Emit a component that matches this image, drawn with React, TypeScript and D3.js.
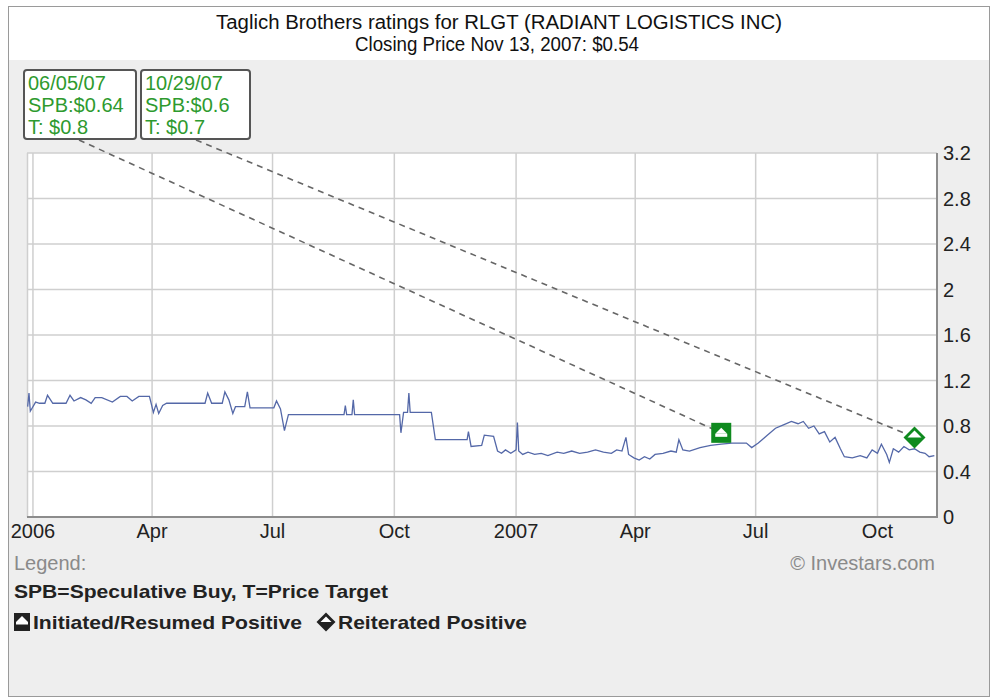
import React from "react";
import * as d3 from "d3";

// closing prices
const priceDates = [
  "2005-12-28","2005-12-29","2005-12-30","2006-01-03","2006-01-06","2006-01-10","2006-01-12","2006-01-16",
  "2006-01-26","2006-01-29","2006-02-01","2006-02-06","2006-02-10","2006-02-14","2006-02-17","2006-02-22",
  "2006-03-02","2006-03-08","2006-03-13","2006-03-17","2006-03-22","2006-03-30","2006-04-02","2006-04-04",
  "2006-04-06","2006-04-09","2006-04-12","2006-05-11","2006-05-13","2006-05-16","2006-05-24","2006-05-26",
  "2006-05-29","2006-06-01","2006-06-03","2006-06-10","2006-06-12","2006-06-14","2006-07-02","2006-07-04",
  "2006-07-07","2006-07-10","2006-07-13","2006-08-24","2006-08-25","2006-08-26","2006-08-30","2006-08-31",
  "2006-09-01","2006-10-05","2006-10-06","2006-10-08","2006-10-11","2006-10-12","2006-10-13","2006-10-29",
  "2006-11-01","2006-11-25","2006-11-26","2006-11-28","2006-12-06","2006-12-08","2006-12-15","2006-12-18",
  "2006-12-21","2006-12-24","2006-12-28","2007-01-01","2007-01-02","2007-01-03","2007-01-06","2007-01-10",
  "2007-01-15","2007-01-20","2007-01-25","2007-02-01","2007-02-06","2007-02-12","2007-02-18","2007-02-24",
  "2007-03-02","2007-03-08","2007-03-14","2007-03-18","2007-03-22","2007-03-25","2007-03-27","2007-03-31",
  "2007-04-04","2007-04-08","2007-04-12","2007-04-16","2007-04-22","2007-04-28","2007-05-02","2007-05-04",
  "2007-05-07","2007-05-12","2007-05-20","2007-05-28","2007-06-05","2007-06-13","2007-06-24","2007-06-28",
  "2007-07-03","2007-07-10","2007-07-16","2007-07-22","2007-07-28","2007-08-02","2007-08-06","2007-08-10",
  "2007-08-14","2007-08-18","2007-08-22","2007-08-26","2007-08-30","2007-09-03","2007-09-06","2007-09-12",
  "2007-09-18","2007-09-23","2007-09-27","2007-10-01","2007-10-04","2007-10-08","2007-10-10","2007-10-13",
  "2007-10-17","2007-10-21","2007-10-25","2007-10-29","2007-11-02","2007-11-06","2007-11-09","2007-11-13",
];
const priceValues = [
  0.97,1.09,0.93,1.01,1.0,1.0,1.07,1.0,
  1.0,1.07,1.02,1.05,1.03,1.0,1.05,1.05,
  1.01,1.06,1.06,1.02,1.06,1.06,0.92,0.99,
  0.91,0.98,1.0,1.0,1.09,1.0,1.0,1.1,
  1.03,0.91,0.97,0.97,1.1,0.96,0.96,1.02,
  0.95,0.76,0.9,0.9,0.98,0.9,0.9,1.03,
  0.9,0.9,0.74,0.92,0.92,1.09,0.92,0.92,
  0.68,0.68,0.75,0.62,0.63,0.72,0.71,0.58,
  0.56,0.59,0.56,0.59,0.83,0.58,0.55,0.57,
  0.55,0.56,0.54,0.57,0.56,0.58,0.56,0.57,
  0.59,0.57,0.56,0.59,0.58,0.7,0.55,0.52,
  0.5,0.53,0.51,0.55,0.56,0.58,0.57,0.68,
  0.59,0.58,0.61,0.63,0.64,0.65,0.65,0.61,
  0.65,0.72,0.78,0.81,0.84,0.82,0.84,0.78,
  0.8,0.73,0.75,0.66,0.7,0.6,0.53,0.52,
  0.54,0.52,0.59,0.56,0.64,0.55,0.48,0.6,
  0.57,0.62,0.59,0.6,0.57,0.56,0.53,0.54,
];

// rating events
const ratingDates = ["2007-06-05", "2007-10-29"];
const ratingLabels = ["06/05/07", "10/29/07"];
const ratingPrices = [0.64, 0.6];
const ratingTargets = [0.8, 0.7];
const ratingLevels = [0.74, 0.7];
const ratingKinds = ["initiated", "reiterated"];

const xTickDates = ["2006-01-01","2006-04-01","2006-07-01","2006-10-01","2007-01-01","2007-04-01","2007-07-01","2007-10-01"];
const xTickLabels = ["2006","Apr","Jul","Oct","2007","Apr","Jul","Oct"];
const yTicks = [0, 0.4, 0.8, 1.2, 1.6, 2, 2.4, 2.8, 3.2];

const parse = d3.timeParse("%Y-%m-%d");
const font = "Liberation Sans, Arial, sans-serif";

const SquareMark = ({ x, y, fill }) => (
  <g transform={`translate(${x},${y})`}>
    <rect x={-10} y={-10} width={20} height={20} fill={fill} />
    <path d="M-6,1 L0,-5 L6,1 Z" fill="white" />
    <rect x={-6} y={1} width={12} height={3} fill="white" />
  </g>
);

const DiamondMark = ({ x, y, fill, r }) => (
  <g transform={`translate(${x},${y})`}>
    <path d={`M0,${-r} L${r},0 L0,${r} L${-r},0 Z`} fill={fill} />
    <path d={`M0,${-r + 4} L${r - 4},0 L${-r + 4},0 Z`} fill="white" />
  </g>
);

const App = () => {
  const x = d3
    .scaleTime()
    .domain([new Date(2005, 11, 27, 12), new Date(2007, 10, 15)])
    .range([27, 937]);
  const y = d3.scaleLinear().domain([0, 3.2]).range([517, 153]);

  const prices = priceDates.map((d, i) => ({ date: parse(d), value: priceValues[i] }));
  const line = d3
    .line()
    .x(d => x(d.date))
    .y(d => y(d.value));

  const boxes = [
    { x0: 24, w: 112 },
    { x0: 141, w: 109 },
  ];

  return (
    <svg width={998} height={700} style={{ position: "absolute", left: 0, top: 0 }} fontFamily={font}>
      <rect x={0} y={0} width={998} height={700} fill="white" />
      <rect x={8.5} y={6.5} width={981} height={690} fill="#eeeeee" stroke="#9a9a9a" />
      <rect x={9} y={7} width={980} height={53} fill="white" />

      <text x={499} y={29} textAnchor="middle" fontSize={20} fill="#111" textLength={566} lengthAdjust="spacingAndGlyphs">
        Taglich Brothers ratings for RLGT (RADIANT LOGISTICS INC)
      </text>
      <text x={497} y={51} textAnchor="middle" fontSize={20} fill="#111" textLength={284} lengthAdjust="spacingAndGlyphs">
        Closing Price Nov 13, 2007: $0.54
      </text>

      {/* plot area */}
      <rect x={27} y={153} width={910} height={364} fill="white" />
      {yTicks.map(t => (
        <line key={t} x1={27} x2={937} y1={y(t)} y2={y(t)} stroke="#cfcfcf" strokeWidth={1.5} />
      ))}
      <line x1={27.5} x2={27.5} y1={153} y2={517} stroke="#cfcfcf" strokeWidth={1.5} />
      {xTickDates.map(d => (
        <line key={d} x1={x(parse(d))} x2={x(parse(d))} y1={153} y2={517} stroke="#cfcfcf" strokeWidth={1.5} />
      ))}
      <line x1={27} x2={938} y1={517} y2={517} stroke="#8c8c8c" strokeWidth={2} />
      <line x1={937} x2={937} y1={153} y2={518} stroke="#8c8c8c" strokeWidth={2} />

      {yTicks.map(t => (
        <text key={t} x={943} y={y(t)} dy="0.35em" fontSize={20} fill="#222">
          {d3.format("~g")(t)}
        </text>
      ))}
      {xTickDates.map((d, i) => (
        <text key={d} x={x(parse(d))} y={538} textAnchor="middle" fontSize={20} fill="#222">
          {xTickLabels[i]}
        </text>
      ))}

      <path d={line(prices)} fill="none" stroke="#5468a8" strokeWidth={1.3} />

      {/* callouts */}
      {ratingDates.map((d, i) => {
        const b = boxes[i];
        const mx = x(parse(d));
        const my = y(ratingLevels[i]);
        return (
          <g key={d}>
            <line x1={b.x0 + 55} y1={140} x2={mx} y2={my} stroke="#666" strokeWidth={1.6} strokeDasharray="6,5" />
            <rect x={b.x0} y={70} width={b.w} height={69} rx={3} fill="white" stroke="#555" strokeWidth={2} />
            <text x={b.x0 + 4} y={90} fontSize={20} fill="#2e9a2e">{ratingLabels[i]}</text>
            <text x={b.x0 + 4} y={112} fontSize={20} fill="#2e9a2e">{`SPB:$${ratingPrices[i]}`}</text>
            <text x={b.x0 + 4} y={134} fontSize={20} fill="#2e9a2e">{`T: $${ratingTargets[i]}`}</text>
          </g>
        );
      })}
      {ratingDates.map((d, i) =>
        ratingKinds[i] === "initiated" ? (
          <SquareMark key={d} x={x(parse(d))} y={y(ratingLevels[i])} fill="#0f8a1f" />
        ) : (
          <DiamondMark key={d} x={x(parse(d))} y={y(ratingLevels[i])} fill="#0f8a1f" r={11} />
        )
      )}

      {/* legend */}
      <text x={14} y={570} fontSize={20} fill="#8a8a8a">Legend:</text>
      <text x={935} y={570} fontSize={20} fill="#8a8a8a" textAnchor="end">© Investars.com</text>
      <text x={14} y={598} fontSize={19} fontWeight="bold" fill="#222" textLength={374} lengthAdjust="spacingAndGlyphs">
        SPB=Speculative Buy, T=Price Target
      </text>
      <g transform="translate(22,622)">
        <rect x={-8} y={-9} width={16} height={18} fill="#222" />
        <path d="M-6,0 L0,-6 L6,0 Z" fill="white" />
        <rect x={-6} y={0} width={12} height={2.5} fill="white" />
      </g>
      <text x={33} y={629} fontSize={19} fontWeight="bold" fill="#222" textLength={269} lengthAdjust="spacingAndGlyphs">
        Initiated/Resumed Positive
      </text>
      <DiamondMark x={326} y={622} fill="#222" r={9.5} />
      <text x={338} y={629} fontSize={19} fontWeight="bold" fill="#222" textLength={189} lengthAdjust="spacingAndGlyphs">
        Reiterated Positive
      </text>
    </svg>
  );
};

export default App;
